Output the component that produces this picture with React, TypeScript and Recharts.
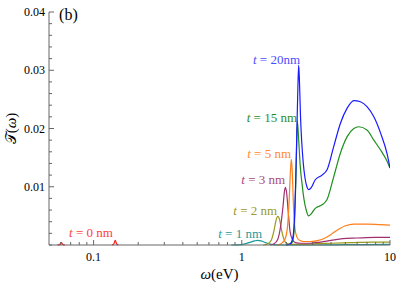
import React from 'react';
import { LineChart, Line, XAxis, YAxis, ReferenceDot, Label } from 'recharts';

// photon energy (eV) and transmission values, per thickness
const omegaT0a = [0.057, 0.059, 0.0605, 0.062, 0.064];
const transT0a = [0, 0.0001, 0.0004, 0.0001, 0];
const omegaT0b = [0.133, 0.137, 0.14, 0.143, 0.147];
const transT0b = [0, 0.0002, 0.0008, 0.0002, 0];

const omegaT1 = [0.85, 0.95, 1.05, 1.15, 1.22, 1.28, 1.35, 1.45, 1.55, 1.7, 2.0, 3.0, 5.0, 10];
const transT1 = [0, 0.00003, 0.0002, 0.0005, 0.0007, 0.0008, 0.0007, 0.0004, 0.00015, 0.00002, 0, 0, 0.00005, 0.0001];

const omegaT2 = [1.4, 1.5, 1.58, 1.65, 1.7, 1.75, 1.8, 1.86, 1.93, 2.0, 2.15, 2.5, 3.0, 4.0, 5.5, 7.5, 10];
const transT2 = [0, 0.0002, 0.0008, 0.0025, 0.0042, 0.0049, 0.0043, 0.0024, 0.0009, 0.0003, 0.0001, 0.0001, 0.0002, 0.0003, 0.0004, 0.0005, 0.0005];

const omegaT3 = [1.55, 1.65, 1.75, 1.83, 1.9, 1.94, 1.97, 2.01, 2.06, 2.12, 2.2, 2.3, 2.5, 2.9, 3.4, 4.0, 4.8, 6.0, 8.0, 10];
const transT3 = [0, 0.0002, 0.001, 0.0033, 0.0068, 0.0092, 0.0099, 0.0088, 0.0055, 0.0022, 0.0009, 0.0004, 0.0003, 0.0003, 0.0005, 0.0008, 0.0011, 0.0012, 0.0013, 0.0013];

const omegaT5 = [1.75, 1.88, 1.97, 2.04, 2.09, 2.13, 2.16, 2.19, 2.23, 2.28, 2.35, 2.45, 2.6, 2.9, 3.3, 3.7, 4.1, 4.5, 5.0, 5.7, 7.0, 8.5, 10];
const transT5 = [0, 0.0004, 0.0012, 0.0035, 0.008, 0.0128, 0.0147, 0.0125, 0.007, 0.003, 0.0014, 0.0008, 0.0006, 0.0006, 0.0008, 0.0013, 0.002, 0.0027, 0.0033, 0.0036, 0.0036, 0.0035, 0.0034];

const omegaT15 = [2.0, 2.15, 2.22, 2.27, 2.31, 2.34, 2.37, 2.42, 2.48, 2.55, 2.63, 2.72, 2.82, 2.95, 3.13, 3.48, 3.76, 4.17, 4.63, 5.14, 5.7, 6.16, 7.02, 7.78, 8.64, 9.59, 10];
const transT15 = [0, 0.0002, 0.001, 0.004, 0.01, 0.016, 0.0213, 0.018, 0.0135, 0.0105, 0.0078, 0.006, 0.005, 0.0054, 0.0063, 0.0069, 0.0078, 0.0117, 0.0158, 0.0186, 0.02, 0.0203, 0.0197, 0.018, 0.0163, 0.0143, 0.0132];

const omegaT20 = [2.0, 2.12, 2.2, 2.26, 2.31, 2.35, 2.39, 2.42, 2.45, 2.49, 2.54, 2.6, 2.67, 2.75, 2.82, 2.95, 3.13, 3.48, 3.76, 4.17, 4.63, 5.14, 5.7, 6.32, 7.02, 7.78, 8.64, 9.59, 10];
const transT20 = [0, 0.0002, 0.001, 0.004, 0.011, 0.019, 0.027, 0.0309, 0.028, 0.022, 0.0175, 0.014, 0.0115, 0.01, 0.0095, 0.0099, 0.0112, 0.012, 0.0129, 0.0169, 0.0209, 0.0235, 0.0248, 0.0246, 0.0237, 0.022, 0.0192, 0.0155, 0.0132];

const xTicks = [0.06, 0.07, 0.08, 0.09, 0.1, 0.2, 0.3, 0.4, 0.5, 0.6, 0.7, 0.8, 0.9, 1, 2, 3, 4, 5, 6, 7, 8, 9, 10];
const xLabels = [0.1, 1, 10];
const yTicks = Array.from({ length: 21 }, (_, i) => +(i * 0.002).toFixed(3));
const yLabels = [0.01, 0.02, 0.03, 0.04];

const zip = (xs: number[], ys: number[]) => xs.map((w, i) => ({ w, v: ys[i] }));

const series = [
  { key: 't0a', color: '#ff1a1a', data: zip(omegaT0a, transT0a) },
  { key: 't0b', color: '#ff1a1a', data: zip(omegaT0b, transT0b) },
  { key: 't1', color: '#1a9999', data: zip(omegaT1, transT1) },
  { key: 't2', color: '#99991a', data: zip(omegaT2, transT2) },
  { key: 't3', color: '#a03070', data: zip(omegaT3, transT3) },
  { key: 't5', color: '#ff7f1a', data: zip(omegaT5, transT5) },
  { key: 't15', color: '#1f8f1f', data: zip(omegaT15, transT15) },
  { key: 't20', color: '#1a1aff', data: zip(omegaT20, transT20) },
];

// annotation anchors (right end of text) in data coordinates
const notes = [
  { w: 2.47, v: 0.0311, num: '20nm', color: '#4d4dff' },
  { w: 2.36, v: 0.0212, num: '15 nm', color: '#2a8f2a' },
  { w: 2.15, v: 0.0149, num: '5 nm', color: '#ff8a33' },
  { w: 1.96, v: 0.0105, num: '3 nm', color: '#a84a7e' },
  { w: 1.73, v: 0.0052, num: '2 nm', color: '#9a9a2a' },
  { w: 1.37, v: 0.00125, num: '1 nm', color: '#2a9a9a' },
  { w: 0.135, v: 0.0014, num: '0 nm', color: '#ff4040' },
];

const FONT = '"Liberation Serif", "DejaVu Serif", serif';
const AXIS = '#666';

const XTick = (props: any) => {
  const { x, y, payload } = props;
  const major = xLabels.includes(payload.value);
  return (
    <g>
      <line x1={x} x2={x} y1={y} y2={y - (major ? 5 : 3)} stroke={AXIS} />
      {major && (
        <text x={x} y={y + 16} textAnchor="middle" fontSize={12} fontFamily={FONT} fill="#000">
          {payload.value}
        </text>
      )}
    </g>
  );
};

const YTick = (props: any) => {
  const { x, y, payload } = props;
  const major = yLabels.includes(payload.value);
  return (
    <g>
      <line x1={x} x2={x + (major ? 5 : 3)} y1={y} y2={y} stroke={AXIS} />
      {major && (
        <text x={x - 4} y={y + 4} textAnchor="end" fontSize={12} fontFamily={FONT} fill="#000">
          {payload.value}
        </text>
      )}
    </g>
  );
};

const noteLabel = (num: string, color: string) => (props: any) => {
  const { viewBox } = props;
  return (
    <text x={viewBox.x} y={viewBox.y} textAnchor="end" fontSize={13} fontFamily={FONT} fill={color}>
      <tspan fontStyle="italic">t</tspan>
      {' = ' + num}
    </text>
  );
};

export default function App() {
  return (
    <div style={{ position: 'fixed', left: 0, top: 0, width: 401, height: 286, background: '#fff' }}>
      <LineChart width={401} height={286} margin={{ top: 12, right: 11, bottom: 0, left: 0 }}>
        <XAxis
          dataKey="w"
          type="number"
          scale="log"
          domain={[0.05, 10]}
          allowDataOverflow
          ticks={xTicks}
          interval={0}
          tickSize={0}
          tickMargin={0}
          tickLine={false}
          tick={<XTick />}
          stroke={AXIS}
          height={41}
        >
          <Label
            content={(p: any) => (
              <text
                x={p.viewBox.x + p.viewBox.width / 2}
                y={p.viewBox.y + 34}
                textAnchor="middle"
                fontSize={15}
                fontFamily={FONT}
                fill="#000"
              >
                <tspan fontStyle="italic">ω</tspan>(eV)
              </text>
            )}
          />
        </XAxis>
        <YAxis
          type="number"
          domain={[0, 0.04]}
          ticks={yTicks}
          interval={0}
          tickSize={0}
          tickMargin={0}
          tickLine={false}
          tick={<YTick />}
          stroke={AXIS}
          width={49}
        >
          <Label
            content={(p: any) => {
              const cx = 11;
              const cy = p.viewBox.y + p.viewBox.height / 2;
              return (
                <text
                  x={cx}
                  y={cy}
                  transform={`rotate(-90 ${cx} ${cy})`}
                  textAnchor="middle"
                  dominantBaseline="central"
                  fontSize={15}
                  fontFamily={FONT}
                  fill="#000"
                >
                  𝒯(<tspan fontStyle="italic">ω</tspan>)
                </text>
              );
            }}
          />
        </YAxis>
        {series.map((s) => (
          <Line
            key={s.key}
            data={s.data}
            dataKey="v"
            type="monotone"
            stroke={s.color}
            strokeWidth={1.2}
            dot={false}
            isAnimationActive={false}
          />
        ))}
        {notes.map((n) => (
          <ReferenceDot
            key={n.num}
            x={n.w}
            y={n.v}
            r={0}
            fill="none"
            stroke="none"
            label={{ content: noteLabel(n.num, n.color) }}
          />
        ))}
        <ReferenceDot
          x={0.0585}
          y={0.0386}
          r={0}
          fill="none"
          stroke="none"
          label={{
            content: (p: any) => (
              <text x={p.viewBox.x} y={p.viewBox.y} fontSize={16} fontFamily={FONT} fill="#000">
                (b)
              </text>
            ),
          }}
        />
      </LineChart>
    </div>
  );
}
